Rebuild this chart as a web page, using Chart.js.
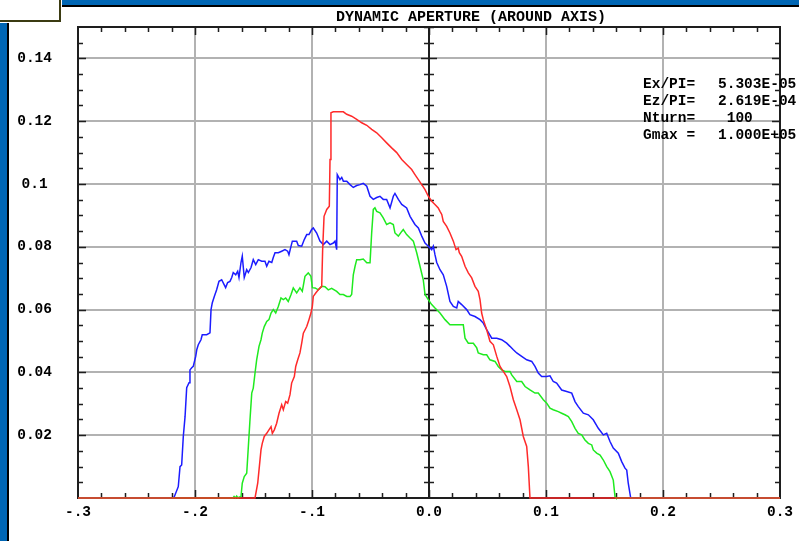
<!DOCTYPE html>
<html>
<head>
<meta charset="utf-8">
<title>Dynamic aperture</title>
<script src="https://cdn.jsdelivr.net/npm/chart.js@4.4.1/dist/chart.umd.min.js"></script>
<style>
  html, body { margin: 0; padding: 0; background: #fff; overflow: hidden; }
  #wrap { position: relative; width: 799px; height: 541px; }
  canvas { position: absolute; left: 0; top: 0; }
  .deco { position: absolute; }
  .txt { position: absolute; font-family: 'Liberation Mono', 'DejaVu Sans Mono', monospace; font-weight: bold; color: #000; white-space: pre; }
</style>
</head>
<body>
<div id="wrap">
  <canvas id="c" width="799" height="541"></canvas>
  <!-- window frame -->
  <div class="deco" style="left:62px;top:0;width:737px;height:5px;background:#0066b4"></div>
  <div class="deco" style="left:62px;top:5px;width:737px;height:2px;background:#000"></div>
  <div class="deco" style="left:0;top:0;width:59px;height:20px;background:#fff;border-right:2px solid #3b3b12;border-bottom:2px solid #3b3b12"></div>
  <div class="deco" style="left:0;top:23px;width:7px;height:518px;background:#0066b4"></div>
  <div class="deco" style="left:7px;top:23px;width:2px;height:518px;background:#000"></div>
  <!-- titles and run parameters -->
  <div class="txt" id="title" style="left:336px;top:9px;font-size:15px;line-height:17px"></div>
  <div class="txt" id="parNames" style="left:643px;top:76px;font-size:14.5px;line-height:17px"></div>
  <div class="txt" id="parValues" style="left:718px;top:76px;font-size:14.5px;line-height:17px"></div>
</div>
<script>
// ---- plot title and run parameters ----
const titleText = 'DYNAMIC APERTURE (AROUND AXIS)';
const paramNames = ['Ex/PI=', 'Ez/PI=', 'Nturn=', 'Gmax ='];
const paramValues = ['5.303E-05', '2.619E-04', ' 100', '1.000E+05'];

// ---- axis ticks ----
const xTickValues = [-0.3, -0.2, -0.1, 0, 0.1, 0.2, 0.3];
const xTickLabels = ['-.3', '-.2', '-.1', '0.0', '0.1', '0.2', '0.3'];
const yTickValues = [0.02, 0.04, 0.06, 0.08, 0.1, 0.12, 0.14];
const yTickLabels = ['0.02', '0.04', '0.06', '0.08', '0.1', '0.12', '0.14'];

// ---- aperture curves (x, amplitude) ----
const blueX = [-0.3, -0.2184, -0.2177, -0.2143, -0.2128, -0.2114, -0.2100, -0.2085, -0.2071, -0.2051,
  -0.2043, -0.2028, -0.2015, -0.1994, -0.1985, -0.1972, -0.1949, -0.1938, -0.1900, -0.1872,
  -0.1863, -0.1852, -0.1835, -0.1815, -0.1795, -0.1772, -0.1750, -0.1738, -0.1721, -0.1701,
  -0.1686, -0.1673, -0.1652, -0.1635, -0.1624, -0.1607, -0.1596, -0.1579, -0.1558, -0.1544,
  -0.1521, -0.1502, -0.1481, -0.1459, -0.1430, -0.1402, -0.1387, -0.1368, -0.1344, -0.1331,
  -0.1316, -0.1288, -0.1259, -0.1231, -0.1208, -0.1197, -0.1179, -0.1168, -0.1131, -0.1117,
  -0.1088, -0.1066, -0.1045, -0.1026, -0.1003, -0.0989, -0.0960, -0.0932, -0.0903, -0.0874,
  -0.0846, -0.0818, -0.0803, -0.0789, -0.0784, -0.0761, -0.0746, -0.0732, -0.0703, -0.0675,
  -0.0647, -0.0618, -0.0590, -0.0562, -0.0532, -0.0504, -0.0476, -0.0447, -0.0419, -0.0391,
  -0.0362, -0.0333, -0.0305, -0.0291, -0.0262, -0.0233, -0.0191, -0.0162, -0.0120, -0.0091,
  -0.0062, -0.0034, -0.0006, 0.0023, 0.0037, 0.0051, 0.0066, 0.0094, 0.0122, 0.0151,
  0.0179, 0.0208, 0.0237, 0.0250, 0.0279, 0.0322, 0.0350, 0.0393, 0.0436, 0.0464,
  0.0493, 0.0536, 0.0579, 0.0621, 0.0664, 0.0692, 0.0721, 0.0750, 0.0792, 0.0835,
  0.0878, 0.0906, 0.0934, 0.0963, 0.1006, 0.1034, 0.1062, 0.1091, 0.1134, 0.1177,
  0.1220, 0.1248, 0.1276, 0.1319, 0.1362, 0.1404, 0.1447, 0.1490, 0.1519, 0.1547,
  0.1575, 0.1618, 0.1647, 0.1675, 0.1690, 0.1703, 0.1724, 0.3];
const blueY = [0, 0, 0.0004, 0.0036, 0.0100, 0.0105, 0.0196, 0.0259, 0.0351, 0.0367,
  0.0408, 0.0415, 0.0419, 0.0451, 0.0472, 0.0488, 0.0504, 0.0520, 0.0520, 0.0526,
  0.0600, 0.0622, 0.0642, 0.0663, 0.0690, 0.0695, 0.0679, 0.0670, 0.0686, 0.0690,
  0.0702, 0.0718, 0.0711, 0.0722, 0.0702, 0.0750, 0.0770, 0.0702, 0.0727, 0.0718,
  0.0734, 0.0759, 0.0743, 0.0759, 0.0754, 0.0754, 0.0738, 0.0754, 0.0750, 0.0766,
  0.0781, 0.0781, 0.0786, 0.0791, 0.0786, 0.0775, 0.0802, 0.0818, 0.0818, 0.0804,
  0.0802, 0.0823, 0.0839, 0.0839, 0.0855, 0.0860, 0.0844, 0.0818, 0.0807, 0.0818,
  0.0807, 0.0812, 0.0818, 0.0791, 0.1030, 0.1014, 0.1021, 0.1009, 0.1009, 0.0998,
  0.0989, 0.0995, 0.0998, 0.1002, 0.0993, 0.0961, 0.0951, 0.0957, 0.0961, 0.0951,
  0.0951, 0.0924, 0.0961, 0.0970, 0.0951, 0.0935, 0.0924, 0.0897, 0.0871, 0.0860,
  0.0834, 0.0812, 0.0802, 0.0791, 0.0802, 0.0775, 0.0750, 0.0727, 0.0711, 0.0674,
  0.0626, 0.0610, 0.0605, 0.0626, 0.0616, 0.0600, 0.0584, 0.0578, 0.0568, 0.0557,
  0.0536, 0.0509, 0.0509, 0.0504, 0.0493, 0.0483, 0.0472, 0.0462, 0.0451, 0.0440,
  0.0435, 0.0419, 0.0398, 0.0387, 0.0387, 0.0389, 0.0371, 0.0366, 0.0344, 0.0339,
  0.0334, 0.0307, 0.0291, 0.0270, 0.0265, 0.0249, 0.0222, 0.0201, 0.0206, 0.0180,
  0.0159, 0.0143, 0.0116, 0.0095, 0.0089, 0.0047, 0, 0];

const greenX = [-0.3, -0.1675, -0.1666, -0.1655, -0.1644, -0.1633, -0.1620, -0.1607, -0.1596, -0.1579,
  -0.1558, -0.1544, -0.1530, -0.1515, -0.1502, -0.1487, -0.1473, -0.1453, -0.1436, -0.1425,
  -0.1408, -0.1387, -0.1368, -0.1350, -0.1331, -0.1310, -0.1288, -0.1265, -0.1245, -0.1225,
  -0.1203, -0.1179, -0.1160, -0.1131, -0.1103, -0.1083, -0.1060, -0.1032, -0.1009, -0.0997,
  -0.0974, -0.0946, -0.0917, -0.0889, -0.0861, -0.0832, -0.0789, -0.0761, -0.0732, -0.0703,
  -0.0675, -0.0661, -0.0647, -0.0632, -0.0618, -0.0590, -0.0562, -0.0532, -0.0504, -0.0490,
  -0.0476, -0.0462, -0.0447, -0.0419, -0.0391, -0.0362, -0.0333, -0.0305, -0.0291, -0.0262,
  -0.0233, -0.0220, -0.0191, -0.0162, -0.0134, -0.0105, -0.0077, -0.0049, -0.0034, -0.0006,
  0.0023, 0.0051, 0.0094, 0.0137, 0.0179, 0.0293, 0.0308, 0.0336, 0.0379, 0.0408,
  0.0421, 0.0464, 0.0493, 0.0521, 0.0564, 0.0592, 0.0621, 0.0650, 0.0692, 0.0707,
  0.0750, 0.0792, 0.0821, 0.0863, 0.0906, 0.0934, 0.0977, 0.1006, 0.1034, 0.1062,
  0.1105, 0.1134, 0.1162, 0.1191, 0.1220, 0.1248, 0.1276, 0.1305, 0.1333, 0.1362,
  0.1391, 0.1404, 0.1433, 0.1462, 0.1490, 0.1519, 0.1547, 0.1575, 0.1590, 0.1598, 0.3];
const greenY = [0, 0, 0.0005, 0, 0.0006, 0, 0.0003, 0.0004, 0.0047, 0.0068,
  0.0079, 0.0164, 0.0249, 0.0334, 0.0350, 0.0398, 0.0440, 0.0483, 0.0504, 0.0525,
  0.0546, 0.0562, 0.0568, 0.0589, 0.0600, 0.0589, 0.0610, 0.0637, 0.0632, 0.0637,
  0.0626, 0.0648, 0.0669, 0.0653, 0.0669, 0.0658, 0.0706, 0.0717, 0.0706, 0.0670,
  0.0669, 0.0663, 0.0674, 0.0673, 0.0663, 0.0668, 0.0658, 0.0648, 0.0648, 0.0642,
  0.0642, 0.0648, 0.0711, 0.0738, 0.0759, 0.0759, 0.0761, 0.0749, 0.0749, 0.0844,
  0.0919, 0.0924, 0.0913, 0.0908, 0.0892, 0.0871, 0.0876, 0.0871, 0.0844, 0.0834,
  0.0849, 0.0855, 0.0839, 0.0828, 0.0818, 0.0781, 0.0738, 0.0695, 0.0648, 0.0632,
  0.0616, 0.0605, 0.0589, 0.0568, 0.0552, 0.0552, 0.0509, 0.0493, 0.0493, 0.0478,
  0.0462, 0.0456, 0.0456, 0.0440, 0.0435, 0.0419, 0.0408, 0.0403, 0.0403, 0.0392,
  0.0371, 0.0371, 0.0355, 0.0344, 0.0334, 0.0334, 0.0313, 0.0302, 0.0286, 0.0281,
  0.0275, 0.0270, 0.0265, 0.0259, 0.0243, 0.0222, 0.0206, 0.0201, 0.0185, 0.0174,
  0.0169, 0.0153, 0.0143, 0.0137, 0.0121, 0.0100, 0.0084, 0.0057, 0.0004, 0, 0];

const redX = [-0.3, -0.1487, -0.1464, -0.1450, -0.1436, -0.1425, -0.1408, -0.1387, -0.1368, -0.1350,
  -0.1339, -0.1322, -0.1302, -0.1282, -0.1259, -0.1245, -0.1225, -0.1208, -0.1188, -0.1174,
  -0.1151, -0.1139, -0.1122, -0.1103, -0.1088, -0.1074, -0.1045, -0.1026, -0.1009, -0.0997,
  -0.0989, -0.0968, -0.0946, -0.0917, -0.0909, -0.0897, -0.0874, -0.0852, -0.0846, -0.0838,
  -0.0818, -0.0732, -0.0703, -0.0661, -0.0618, -0.0575, -0.0532, -0.0490, -0.0447, -0.0404,
  -0.0362, -0.0319, -0.0276, -0.0233, -0.0191, -0.0148, -0.0120, -0.0091, -0.0062, -0.0034,
  -0.0006, 0.0023, 0.0051, 0.0079, 0.0094, 0.0109, 0.0122, 0.0151, 0.0179, 0.0208,
  0.0231, 0.0250, 0.0259, 0.0279, 0.0308, 0.0336, 0.0365, 0.0393, 0.0421, 0.0436,
  0.0450, 0.0464, 0.0493, 0.0521, 0.0550, 0.0579, 0.0607, 0.0635, 0.0664, 0.0692,
  0.0721, 0.0750, 0.0778, 0.0806, 0.0835, 0.0849, 0.0863, 0.3];
const redY = [0, 0, 0.0047, 0.0100, 0.0153, 0.0174, 0.0196, 0.0206, 0.0217, 0.0227,
  0.0206, 0.0217, 0.0238, 0.0270, 0.0297, 0.0281, 0.0307, 0.0302, 0.0329, 0.0366,
  0.0387, 0.0419, 0.0440, 0.0462, 0.0493, 0.0525, 0.0546, 0.0568, 0.0589, 0.0610,
  0.0642, 0.0653, 0.0663, 0.0674, 0.0791, 0.0897, 0.0919, 0.0929, 0.1078, 0.1227,
  0.1230, 0.1230, 0.1222, 0.1216, 0.1206, 0.1195, 0.1187, 0.1174, 0.1163, 0.1147,
  0.1131, 0.1115, 0.1100, 0.1078, 0.1062, 0.1046, 0.1030, 0.1014, 0.0998, 0.0982,
  0.0961, 0.0945, 0.0935, 0.0924, 0.0913, 0.0903, 0.0881, 0.0865, 0.0844, 0.0818,
  0.0791, 0.0796, 0.0781, 0.0770, 0.0738, 0.0717, 0.0701, 0.0674, 0.0658, 0.0632,
  0.0589, 0.0568, 0.0536, 0.0499, 0.0488, 0.0451, 0.0419, 0.0403, 0.0387, 0.0355,
  0.0313, 0.0281, 0.0249, 0.0196, 0.0164, 0.0100, 0, 0];

document.getElementById('title').textContent = titleText;
document.getElementById('parNames').textContent = paramNames.join('\n');
document.getElementById('parValues').textContent = paramValues.join('\n');

const toPoints = (xs, ys) => xs.map((v, i) => ({ x: v, y: ys[i] }));

const tickFont = { family: "'Liberation Mono', 'DejaVu Sans Mono', monospace", size: 14.5, weight: 'bold' };
const GRID = 'rgb(178,178,178)';
const AXIS = '#1e1e1e';

// frame, centre axis and the small inward tick marks
const framePlugin = {
  id: 'frame',
  beforeDatasetsDraw(chart) {
    const { ctx, chartArea: a, scales: { x, y } } = chart;
    ctx.save();
    ctx.strokeStyle = AXIS;
    ctx.lineWidth = 2;
    ctx.strokeRect(a.left, a.top, a.right - a.left, a.bottom - a.top);
    const x0 = Math.round(x.getPixelForValue(0));
    ctx.beginPath();
    ctx.moveTo(x0, a.top);
    ctx.lineTo(x0, a.bottom);
    ctx.stroke();

    ctx.lineWidth = 1.5;
    ctx.beginPath();
    // vertical direction: a mark every 0.005, longer every 0.02
    for (let k = 1; k <= 30; k++) {
      const py = Math.round(y.getPixelForValue(k * 0.005)) + 0.5;
      const len = (k % 4 === 0) ? 8 : 5;
      if (k < 30) {
        ctx.moveTo(a.left, py); ctx.lineTo(a.left + len, py);
        ctx.moveTo(a.right, py); ctx.lineTo(a.right - len, py);
      }
      ctx.moveTo(x0 - len, py); ctx.lineTo(x0 + len, py);
    }
    // horizontal direction: a mark every 0.02, longer every 0.1
    for (let k = -14; k <= 14; k++) {
      const px = Math.round(x.getPixelForValue(k * 0.02)) + 0.5;
      const len = (k % 5 === 0) ? 8 : 5;
      ctx.moveTo(px, a.bottom); ctx.lineTo(px, a.bottom - len);
      ctx.moveTo(px, a.top); ctx.lineTo(px, a.top + len);
    }
    ctx.stroke();
    ctx.restore();
  }
};

const lineSet = (label, xs, ys, color, order) => ({
  label, data: toPoints(xs, ys), borderColor: color, backgroundColor: color,
  showLine: true, pointRadius: 0, borderWidth: 1.5, tension: 0, order, clip: 4
});

// keep the plot area fixed regardless of label overhang
const fixPadding = s => { s.paddingTop = 0; s.paddingBottom = 0; s.paddingLeft = 0; s.paddingRight = 0; };

new Chart(document.getElementById('c'), {
  type: 'scatter',
  data: {
    datasets: [
      lineSet('red', redX, redY, '#ff2a2a', 0),
      lineSet('green', greenX, greenY, '#1fea1f', 1),
      lineSet('blue', blueX, blueY, '#1c1cff', 2)
    ]
  },
  options: {
    responsive: false,
    animation: false,
    devicePixelRatio: 1,
    layout: { padding: { top: 27, right: 19, left: 0, bottom: 0 } },
    plugins: { legend: { display: false }, tooltip: { enabled: false } },
    scales: {
      x: {
        type: 'linear', min: -0.3, max: 0.3,
        afterBuildTicks: s => { s.ticks = xTickValues.map(v => ({ value: v })); },
        afterFit: s => { s.height = 43; fixPadding(s); },
        border: { display: false },
        grid: {
          drawTicks: false, lineWidth: 2,
          color: c => (Math.abs(c.tick.value) < 1e-9 || Math.abs(c.tick.value) > 0.29) ? 'rgba(0,0,0,0)' : GRID
        },
        ticks: {
          callback: (v, i) => xTickLabels[i], font: tickFont, color: '#000',
          padding: 6, maxRotation: 0, autoSkip: false
        }
      },
      y: {
        type: 'linear', min: 0, max: 0.15,
        afterBuildTicks: s => { s.ticks = yTickValues.map(v => ({ value: v })); },
        afterFit: s => { s.width = 78; fixPadding(s); },
        border: { display: false },
        grid: { drawTicks: false, lineWidth: 2, color: GRID },
        ticks: {
          callback: (v, i) => yTickLabels[i], font: tickFont, color: '#000',
          padding: 26, crossAlign: 'center', autoSkip: false
        }
      }
    }
  },
  plugins: [framePlugin]
});
</script>
</body>
</html>
